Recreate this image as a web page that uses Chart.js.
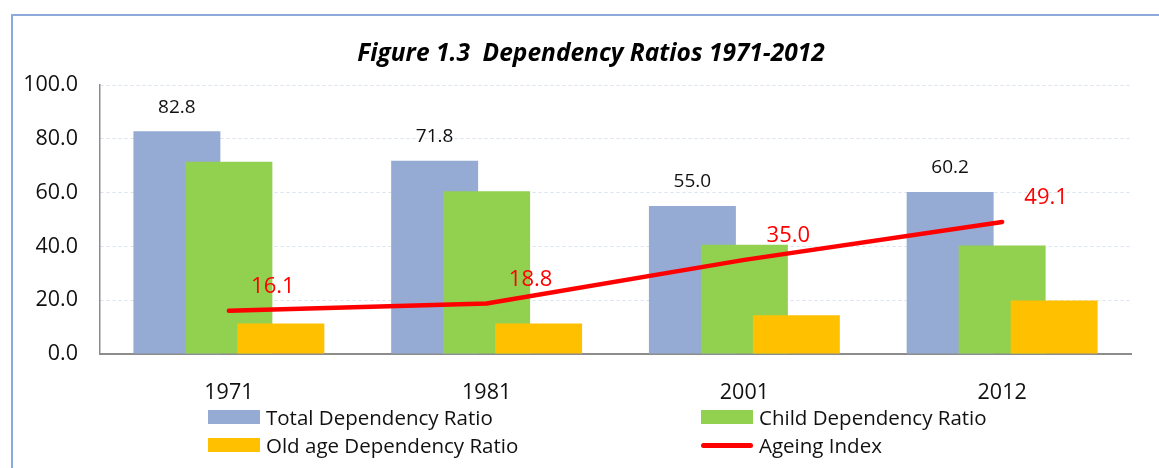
<!DOCTYPE html>
<html>
<head>
<meta charset="utf-8">
<script src="https://cdn.jsdelivr.net/npm/chart.js@4"></script>
<style>
  body { margin: 0; background: #fff; }
  #wrap { position: relative; width: 1159px; height: 468px; overflow: hidden; }
  #frame { position: absolute; left: 11px; top: 14px; width: 1200px; height: 500px;
           border-left: 2px solid #8eaadb; border-top: 2px solid #8eaadb; box-sizing: border-box; }
  canvas { position: absolute; left: 0; top: 0; }
  #title { position: absolute; left: 291px; width: 600px; top: 36px; height: 32px; line-height: 32px;
           text-align: center; white-space: pre; font-family: "Open Sans", sans-serif;
           font-size: 24.5px; font-weight: bold; font-style: italic; color: #000; }
  #legend { position: absolute; left: 0; top: 0; font-family: "Open Sans", sans-serif; font-size: 20.5px; color: #111; }
  .item { position: absolute; display: flex; align-items: center; height: 26px; white-space: nowrap; }
  .swatch { width: 52px; height: 14px; margin-right: 6px; flex: none; }
  .swatch.line { height: 5px; border-radius: 3px; }
</style>
</head>
<body>
<div id="wrap">
  <div id="frame"></div>
  <canvas id="myChart" width="1159" height="468"></canvas>
  <div id="title"></div>
  <div id="legend"></div>
</div>
<script>

//------------------------------------------------------------------

var title_text = 'Figure 1.3  Dependency Ratios 1971-2012';

var years      = ['1971', '1981', '2001', '2012'];
var total_dep  = [82.8, 71.8, 55.0, 60.2];
var child_dep  = [71.5, 60.5, 40.6, 40.3];
var old_dep    = [11.3, 11.3, 14.4, 19.9];
var ageing_idx = [16.1, 18.8, 35.0, 49.1];

var y_ticks = [0, 20, 40, 60, 80, 100];

//------------------------------------------------------------------

var font_name = '"Open Sans", Lato, sans-serif';

// draw bars left -> right so the right bar of a group sits on top, line last
const order_plugin = {
    id: 'order_plugin',
    beforeDatasetsDraw(chart){
        const metas = chart.getSortedVisibleDatasetMetas();
        for (let i = 0; i < metas.length; i++) {
            metas[i].controller.draw();
        }
        return false;
    },
    afterDraw(chart){
        const c = chart.ctx;
        c.save();
        c.textAlign = 'center';
        c.textBaseline = 'middle';

        // total labels above blue bars
        var meta = chart.getDatasetMeta(0);
        c.fillStyle = '#111';
        c.font = '19px ' + font_name;
        meta.data.forEach(function(bar, i){
            c.fillText(total_dep[i].toFixed(1), bar.x, bar.y - 24);
        });

        // ageing index labels
        meta = chart.getDatasetMeta(3);
        c.fillStyle = '#ff0000';
        c.font = '22px ' + font_name;
        meta.data.forEach(function(pt, i){
            c.fillText(ageing_idx[i].toFixed(1), pt.x + 44, pt.y - 24);
        });
        c.restore();
    }
};

const ctx = document.getElementById('myChart');

const dep_chart = new Chart(ctx, {
    data: {
        labels: years,
        datasets: [{
            type: 'bar',
            label: 'Total Dependency Ratio',
            data: total_dep,
            backgroundColor: '#95abd3',
            order: 1,
        },{
            type: 'bar',
            label: 'Child Dependency Ratio',
            data: child_dep,
            backgroundColor: '#92d050',
            order: 2,
        },{
            type: 'bar',
            label: 'Old age Dependency Ratio',
            data: old_dep,
            backgroundColor: '#ffc000',
            order: 3,
        },{
            type: 'line',
            label: 'Ageing Index',
            data: ageing_idx,
            borderColor: '#ff0000',
            backgroundColor: '#ff0000',
            borderWidth: 4.5,
            borderCapStyle: 'round',
            pointRadius: 0,
            tension: 0,
            order: 4,
        }]
    },
    options: {
        responsive: false,
        animation: false,
        datasets: {
            bar: { categoryPercentage: 0.605, barPercentage: 1.673 }
        },
        layout: { padding: { left: 0, right: 28, top: 85, bottom: 64 } },
        plugins: {
            legend: { display: false },
            tooltip: { enabled: false },
            title: { display: false }
        },
        scales: {
            x: {
                grid: { display: false },
                border: { display: true, color: '#8c8c8c', width: 2 },
                ticks: { color: '#111', font: { family: font_name, size: 21.5 }, padding: 18 },
                afterFit(scale){ scale.height = 50; }
            },
            y: {
                min: 0,
                max: 100,
                afterBuildTicks(scale){ scale.ticks = y_ticks.map(v => ({ value: v })); },
                grid: { color: '#d9e2f0', lineWidth: 1, drawTicks: false },
                border: { display: true, color: '#8c8c8c', width: 1.5, dash: [3, 3] },
                ticks: {
                    color: '#111',
                    font: { family: font_name, size: 21.5 },
                    padding: 22,
                    callback: v => Number(v).toFixed(1)
                },
                afterFit(scale){ scale.width = 100; }
            }
        }
    },
    plugins: [order_plugin]
});

document.getElementById('title').textContent = title_text;

//------------------------------------------------------------------

function show_legend(){
    var pos = [[208, 417], [701, 417], [208, 445], [701, 445]];
    var box = document.getElementById('legend');
    dep_chart.data.datasets.forEach(function(ds, i){
        var item = document.createElement('div');
        item.className = 'item';
        item.style.left = pos[i][0] + 'px';
        item.style.top = (pos[i][1] - 13) + 'px';
        var sw = document.createElement('div');
        sw.className = ds.type == 'line' ? 'swatch line' : 'swatch';
        sw.style.background = ds.type == 'line' ? ds.borderColor : ds.backgroundColor;
        var tx = document.createElement('span');
        tx.textContent = ds.label;
        item.appendChild(sw);
        item.appendChild(tx);
        box.appendChild(item);
    });
}
show_legend();

</script>
</body>
</html>
